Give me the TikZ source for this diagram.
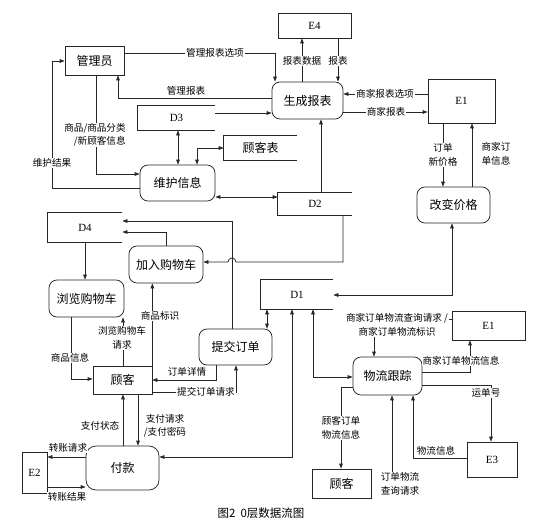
\documentclass[tikz,border=0pt]{standalone}
\usepackage{fontspec}
\setmainfont{Liberation Serif}
\newfontfamily\cjk{Noto Sans CJK SC}
\usetikzlibrary{arrows.meta}
\begin{document}
\begin{tikzpicture}[x=1pt,y=-1pt,line width=0.75pt,draw=black!85,
  arr/.style={-{Triangle[length=5pt,width=3.6pt]}},
  dbl/.style={{Triangle[length=5pt,width=3.6pt]}-{Triangle[length=5pt,width=3.6pt]}},
  ext/.style={draw, inner sep=0pt, font=\cjk\fontsize{12}{14}\selectfont},
  extL/.style={draw, inner sep=0pt, font=\rmfamily\fontsize{11}{13}\selectfont},
  proc/.style={ext, rounded corners=8pt},
  store/.style={inner sep=0pt, font=\rmfamily\fontsize{11}{13}\selectfont},
  storec/.style={inner sep=0pt, font=\cjk\fontsize{12}{14}\selectfont},
  lbl/.style={font=\cjk\fontsize{9.6}{13.5}\selectfont, inner sep=0.8pt, fill=white, align=center},
  lblr/.style={lbl, align=right}]
\useasboundingbox[fill=white] (0,0) rectangle (536,527);

% nodes
\node[ext, minimum width=59pt, minimum height=29pt] (gly) at (94.5,60.5) {管理员};
\node[extL, minimum width=73pt, minimum height=25pt] (e4) at (314.5,25.5) {E4};
\node[proc, minimum width=71pt, minimum height=37pt] (sc) at (307.5,100.5) {生成报表};
\node[extL, minimum width=67pt, minimum height=44pt] (e1a) at (461.5,101) {E1};
\node[store, minimum width=77pt, minimum height=24pt] (d3) at (176.5,118) {D3};
\node[storec, minimum width=73pt, minimum height=24pt] (gkb) at (260.5,148) {顾客表};
\node[proc, minimum width=75pt, minimum height=36pt] (wh) at (177.5,183) {维护信息};
\node[store, minimum width=74pt, minimum height=22pt] (d2) at (315,204) {D2};
\node[proc, minimum width=73pt, minimum height=36pt] (gjg) at (453.5,205) {改变价格};
\node[store, minimum width=74pt, minimum height=29pt] (d4) at (85,227.5) {D4};
\node[proc, minimum width=74pt, minimum height=37pt] (jr) at (166,264.5) {加入购物车};
\node[proc, minimum width=75pt, minimum height=37pt] (ll) at (86.5,298.5) {浏览购物车};
\node[store, minimum width=72pt, minimum height=29pt] (d1) at (297,294.5) {D1};
\node[proc, minimum width=73pt, minimum height=36pt] (tj) at (235.5,347) {提交订单};
\node[ext, minimum width=59pt, minimum height=28pt] (gk) at (122.5,380) {顾客};
\node[extL, minimum width=73pt, minimum height=29pt] (e1b) at (488.5,325.5) {E1};
\node[proc, minimum width=69pt, minimum height=38pt] (wl) at (387.5,376) {物流跟踪};
\node[proc, minimum width=73pt, minimum height=44pt, rounded corners=10pt] (fk) at (122.5,468) {付款};
\node[extL, minimum width=25pt, minimum height=41pt] (e2) at (34.5,472.5) {E2};
\node[extL, minimum width=50pt, minimum height=35pt] (e3) at (492,459.5) {E3};
\node[ext, minimum width=59pt, minimum height=29pt] (gk2) at (341.5,483.5) {顾客};

% data stores (open on the right)
\foreach \s in {d3,gkb,d2,d4,d1}
  \draw (\s.north east) -- (\s.north west) -- (\s.south west) -- (\s.south east);

% connectors
\draw[arr] (gly.east |- 0,53) -- (275,53) -- (275,0 |- sc.north);
\node[lbl] (l1) at (215,53) {管理报表选项};
\draw[arr] (sc.west |- 0,98) -- (118,98) -- (118,0 |- gly.south);
\node[lbl] (l2) at (186,91) {管理报表};
\draw[arr] (d3.east |- 0,113) -- (sc.west |- 0,113);
\draw[dbl] (178,0 |- d3.south) -- (178,0 |- wh.north);
\draw[dbl] (197,0 |- wh.north) -- (197,148) -- (gkb.west |- 0,148);
\draw[dbl] (wh.east |- 0,197) -- (d2.west |- 0,197);
\draw[arr] (321,0 |- d2.north) -- (321,0 |- sc.south);
\draw[arr] (302,0 |- sc.north) -- (302,0 |- e4.south);
\node[lbl] (l3) at (302,61) {报表数据};
\draw[arr] (338,0 |- e4.south) -- (338,0 |- sc.north);
\node[lbl] (l4) at (338,61) {报表};
\draw[arr] (e1a.west |- 0,94) -- (sc.east |- 0,94);
\node[lbl] (l5) at (385,94) {商家报表选项};
\draw[arr] (sc.east |- 0,112) -- (e1a.west |- 0,112);
\node[lbl] (l6) at (386,112) {商家报表};
\draw[arr] (443,0 |- e1a.south) -- (443,0 |- gjg.north);
\node[lbl] (l7) at (443,155) {订单\\新价格};
\draw[arr] (472,0 |- gjg.north) -- (472,0 |- e1a.south);
\node[lbl, fill=none] (l8) at (496,154) {商家订\\单信息};
\draw[arr] (wh.west |- 0,188) -- (52,188) -- (52,61) -- (gly.west |- 0,61);
\node[lbl] (l9) at (52,163) {维护结果};
\draw[arr] (96,0 |- gly.south) -- (96,174) -- (wh.west |- 0,174);
\node[lblr] (l10) at (95,135) {商品/商品分类\\/新顾客信息};
\draw[arr] (343,0 |- d2.south) -- (343,262) -- (236,262) arc[start angle=0,end angle=180,radius=4pt] -- (jr.east |- 0,262);
\draw[arr] (232,0 |- tj.north) -- (232,221) -- (d4.east |- 0,221);
\draw[arr] (166,0 |- jr.north) -- (166,232) -- (d4.east |- 0,232);
\draw[arr] (85,0 |- d4.south) -- (85,0 |- ll.north);
\draw[arr] (123,0 |- gk.north) -- (123,0 |- ll.south);
\node[lbl] (l11) at (122,338) {浏览购物车\\请求};
\draw[arr] (71,0 |- ll.south) -- (71,379) -- (gk.west |- 0,379);
\node[lbl] (l12) at (70,358) {商品信息};
\draw[arr] (gk.north east) -- (gk.north east |- jr.south);
\node[lbl] (l13) at (160,316) {商品标识};
\draw[arr] (216,0 |- tj.south) -- (216,380) -- (gk.east |- 0,380);
\node[lbl] (l14) at (187,372) {订单详情};
\draw[arr] (gk.east |- 0,392) -- (236,392) -- (236,0 |- tj.south);
\node[lbl] (l15) at (206,392) {提交订单请求};
\draw[dbl] (267,0 |- d1.south) -- (267,0 |- tj.north);
\draw[dbl] (452,0 |- gjg.south) -- (452,295) -- (d1.east |- 0,295);
\draw[dbl] (292,0 |- d1.south) -- (292,457) -- (fk.east |- 0,457);
\draw[dbl] (313,0 |- d1.south) -- (313,377) -- (wl.west |- 0,377);
\draw[arr] (e1b.west |- 0,319) -- (374,319) -- (374,0 |- wl.north);
\node[lbl] (l16) at (397,325) {商家订单物流查询请求 /\\商家订单物流标识};
\draw[arr] (wl.east |- 0,372) -- (470,372) -- (470,0 |- e1b.south);
\node[lbl] (l17) at (461,361) {商家订单物流信息};
\draw[arr] (wl.east |- 0,385) -- (491,385) -- (491,0 |- e3.north);
\node[lbl] (l18) at (486,393) {运单号};
\draw[arr] (e3.west |- 0,458) -- (413,458) -- (413,0 |- wl.south);
\node[lbl] (l19) at (436,451) {物流信息};
\draw[arr] (wl.west |- 0,387) -- (341,387) -- (341,0 |- gk2.north);
\node[lbl] (l20) at (341,428) {顾客订单\\物流信息};
\node[lbl] (l21) at (400,484) {订单物流\\查询请求};
\draw[arr] (392,0 |- l21.north) -- (392,0 |- wl.south);
\draw[arr] (123,0 |- fk.north) -- (123,0 |- gk.south);
\node[lbl] (l22) at (100,426) {支付状态};
\draw[arr] (138,0 |- gk.south) -- (138,0 |- fk.north);
\node[lbl] (l23) at (165,426) {支付请求\\/支付密码};
\draw[arr] (fk.west |- 0,457) -- (e2.east |- 0,457);
\node[lbl] (l24) at (68,448) {转账请求};
\draw[arr] (e2.east |- 0,487) -- (fk.west |- 0,487);
\node[lbl] (l25) at (67,497) {转账结果};

% caption
\node[font=\cjk\fontsize{11.5}{13}\selectfont, inner sep=0pt] (cap) at (261,513) {图2\ \ 0层数据流图};
\end{tikzpicture}
\end{document}
